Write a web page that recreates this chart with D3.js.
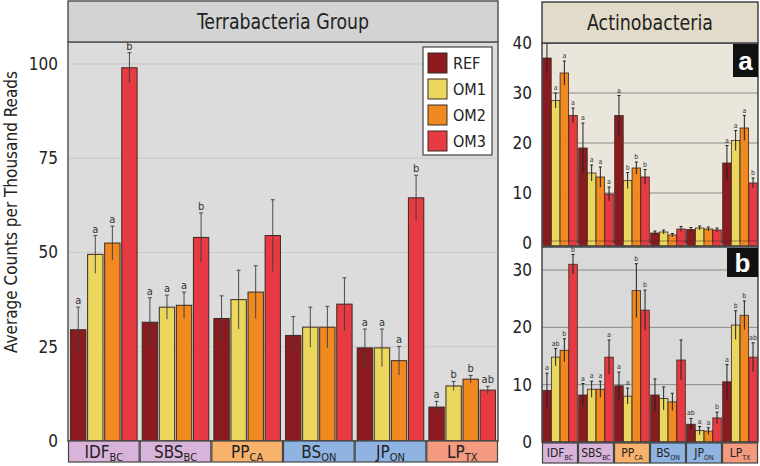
<!DOCTYPE html>
<html>
<head>
<meta charset="utf-8">
<script src="https://cdn.jsdelivr.net/npm/d3@7"></script>
<style>
  body{margin:0;background:#fff}
  svg{display:block;font-family:"Liberation Sans Narrow","DejaVu Sans Condensed",sans-serif}
</style>
</head>
<body>
<script>
// data
const categories = ["IDF","SBS","PP","BS","JP","LP"]
const subs = ["BC","BC","CA","ON","ON","TX"]
const stripColors = ["#d9b4da","#d9b4da","#f7b26c","#8fb4e1","#8fb4e1","#f39a80"]
const series = ["REF","OM1","OM2","OM3"]
const seriesColors = ["#8c1b20","#ecd75e","#f08a20","#e83a42"]

const terraMean = [[29.5,49.5,52.5,99],[31.5,35.5,36,54],[32.5,37.5,39.5,54.5],[28,30.2,30.2,36.3],[24.7,24.7,21.3,64.5],[9,14.6,16.4,13.5]]
const terraErr = [[6,5,4.5,4],[6.5,3.2,3.5,6.5],[6,7.8,7,9.5],[5,5.3,5.5,7],[5,5,3.8,6],[1.5,1.2,1,1]]
const terraLetters = [["a","a","a","b"],["a","a","a","b"],["","","",""],["","","",""],["a","a","a","b"],["a","b","b","ab"]]

const actAMean = [[37,28.5,34,25.5],[19,14,13.2,9.8],[25.5,12.5,15,13.2],[2,2.2,1.6,2.8],[2.7,3,2.8,2.6],[16,20.5,23,12]]
const actAErr = [[3,1.5,2.4,1.5],[5,1.6,2,1.4],[4,1.6,1.2,1.5],[0.4,0.4,0.3,0.5],[0.4,0.4,0.4,0.4],[3.5,2,2.5,1]]
const actALetters = [["a","a","a","a"],["a","a","a","a"],["a","b","b","b"],["","","",""],["","","",""],["a","a","a","b"]]

const actBMean = [[9,14.8,16,31],[8.2,9.2,9.2,14.8],[9.8,8,26.4,23],[8.2,7.6,7,14.3],[3.1,2,1.9,4.2],[10.5,20.4,22.1,14.8]]
const actBErr = [[3,1.5,2,1.7],[2,1.4,1.4,3],[2.4,1.4,4.7,3.5],[2.8,2,1.5,3.5],[1,0.7,0.6,1],[3,2.5,2.5,2.5]]
const actBLetters = [["a","ab","b","b"],["a","a","a","a"],["a","a","b","b"],["","","",""],["ab","a","a","b"],["a","b","b","ab"]]

const terraTicks = [0,25,50,75,100]
const actATicks = [0,10,20,30,40]
const actBTicks = [0,10,20,30]

const svg = d3.select("body").append("svg").attr("width",760).attr("height",466)

function toRows(means,errs,letters){
  let rows=[]
  categories.forEach((c,i)=>{
    series.forEach((s,j)=>{
      rows.push({cat:c,ser:s,value:means[i][j],err:errs[i][j],letter:letters[i][j]})
    })
  })
  return rows
}

function drawBars(g,rows,x0,x1,y,opt){
  let color = d3.scaleOrdinal().domain(series).range(seriesColors)
  g.append("g").selectAll("rect").data(rows).join("rect")
    .attr("x",d=>x0(d.cat)+x1(d.ser))
    .attr("y",d=>y(d.value))
    .attr("width",x1.bandwidth())
    .attr("height",d=>y(0)-y(d.value))
    .attr("fill",d=>color(d.ser))
    .attr("stroke","#3a2a22")
    .attr("stroke-width",opt.sw)
  let eb = g.append("g").attr("stroke",opt.errColor).attr("stroke-width",opt.ew)
  let cx = d=>x0(d.cat)+x1(d.ser)+x1.bandwidth()/2
  eb.selectAll("line.v").data(rows).join("line").attr("class","v")
    .attr("x1",cx).attr("x2",cx)
    .attr("y1",d=>y(d.value-d.err)).attr("y2",d=>y(d.value+d.err))
  eb.selectAll("line.c").data(rows).join("line").attr("class","c")
    .attr("x1",d=>cx(d)-opt.cap).attr("x2",d=>cx(d)+opt.cap)
    .attr("y1",d=>y(d.value+d.err)).attr("y2",d=>y(d.value+d.err))
  g.append("g").selectAll("text").data(rows.filter(d=>d.letter)).join("text")
    .attr("x",cx)
    .attr("y",d=>y(d.value+d.err)-3)
    .attr("text-anchor","middle")
    .attr("font-size",opt.lf)
    .attr("fill","#333")
    .text(d=>d.letter)
}

function drawStrip(g,x0,top,h,fs,sfs){
  let s = g.append("g")
  s.selectAll("rect").data(categories).join("rect")
    .attr("x",d=>x0(d)+0.5).attr("y",top)
    .attr("width",x0.bandwidth()-1).attr("height",h)
    .attr("fill",(d,i)=>stripColors[i])
    .attr("stroke","#444").attr("stroke-width",1.2)
  let t = s.selectAll("text").data(categories).join("text")
    .attr("x",d=>x0(d)+x0.bandwidth()/2)
    .attr("y",top+h/2+fs*0.36)
    .attr("text-anchor","middle")
    .attr("font-size",fs).attr("fill","#222")
  t.append("tspan").text(d=>d)
  t.append("tspan").attr("font-size",sfs).attr("dy",fs*0.22).text((d,i)=>subs[i])
}

function yAxis(g,y,ticks,x){
  g.append("g").attr("transform",`translate(${x},0)`)
    .call(d3.axisLeft(y).tickValues(ticks).tickSize(0).tickPadding(10))
    .call(a=>a.select(".domain").remove())
    .call(a=>a.selectAll("text").attr("font-size",17).attr("fill","#222")
      .attr("font-family","'Liberation Sans Narrow','DejaVu Sans Condensed',sans-serif"))
}

// ---- left panel: Terrabacteria Group
let L = {x0:68,x1:498,top:42,bottom:441}
let xL = d3.scaleBand().domain(categories).range([L.x0,L.x1])
let xLi = d3.scaleBand().domain(series).range([0,xL.bandwidth()]).paddingInner(0.1).paddingOuter(0.15)
let yL = d3.scaleLinear().domain([0,100]).range([L.bottom,64])
let gl = svg.append("g")
gl.append("rect").attr("x",L.x0).attr("y",L.top).attr("width",L.x1-L.x0).attr("height",L.bottom-L.top).attr("fill","#dcdcdc")
gl.append("g").selectAll("line").data(terraTicks.slice(1)).join("line")
  .attr("x1",L.x0).attr("x2",L.x1).attr("y1",d=>yL(d)).attr("y2",d=>yL(d))
  .attr("stroke","#c8c8c8").attr("stroke-width",1.2)
drawBars(gl,toRows(terraMean,terraErr,terraLetters),xL,xLi,yL,{sw:1,errColor:"#3a3a3a",ew:0.9,cap:2,lf:11})
gl.append("rect").attr("x",L.x0).attr("y",L.top).attr("width",L.x1-L.x0).attr("height",L.bottom-L.top)
  .attr("fill","none").attr("stroke","#555").attr("stroke-width",1.5)
gl.append("rect").attr("x",L.x0).attr("y",1).attr("width",L.x1-L.x0).attr("height",L.top-1)
  .attr("fill","#d3d3d3").attr("stroke","#555").attr("stroke-width",1.5)
gl.append("text").attr("x",(L.x0+L.x1)/2).attr("y",29).attr("text-anchor","middle")
  .attr("font-size",22).attr("textLength",172).attr("lengthAdjust","spacingAndGlyphs")
  .attr("fill","#222").text("Terrabacteria Group")
drawStrip(gl,xL,L.bottom,21,17,11)
yAxis(gl,yL,terraTicks,L.x0)
gl.append("text").attr("transform","translate(17,212) rotate(-90)")
  .attr("text-anchor","middle").attr("font-size",17).attr("fill","#222")
  .text("Average Counts per Thousand Reads")

// legend
let leg = gl.append("g").attr("transform","translate(423,47)")
leg.append("rect").attr("width",69).attr("height",108).attr("fill","#fff").attr("stroke","#444").attr("stroke-width",1.2)
leg.selectAll("rect.sw").data(series).join("rect").attr("class","sw")
  .attr("x",5).attr("y",(d,i)=>6+i*26).attr("width",19).attr("height",20)
  .attr("fill",(d,i)=>seriesColors[i]).attr("stroke","#3a2a22")
leg.selectAll("text").data(series).join("text")
  .attr("x",30).attr("y",(d,i)=>22+i*26).attr("font-size",16).attr("fill","#222").text(d=>d)

// ---- right panel: Actinobacteria
let R = {x0:542,x1:758}
let xR = d3.scaleBand().domain(categories).range([R.x0,R.x1])
let xRi = d3.scaleBand().domain(series).range([0,xR.bandwidth()]).paddingInner(0.02).paddingOuter(0.08)
let yA = d3.scaleLinear().domain([0,40]).range([243,43])
let yB = d3.scaleLinear().domain([0,30]).range([442,270])
let gr = svg.append("g")

// panel a
gr.append("rect").attr("x",R.x0).attr("y",43).attr("width",R.x1-R.x0).attr("height",200).attr("fill","#ebe6db")
gr.append("g").selectAll("line").data(actATicks.slice(1,4)).join("line")
  .attr("x1",R.x0).attr("x2",R.x1).attr("y1",d=>yA(d)).attr("y2",d=>yA(d))
  .attr("stroke","#8a8a8a").attr("stroke-width",1)
drawBars(gr,toRows(actAMean,actAErr,actALetters),xR,xRi,yA,{sw:0.8,errColor:"#222",ew:1,cap:1.5,lf:7})
// thin colour strip under panel a
let rowsA = toRows(actAMean,actAErr,actALetters)
gr.append("g").selectAll("rect").data(rowsA).join("rect")
  .attr("x",d=>xR(d.cat)+xRi(d.ser)).attr("y",241)
  .attr("width",xRi.bandwidth()).attr("height",5)
  .attr("fill",(d,i)=>seriesColors[i%4]).attr("stroke","#3a2a22").attr("stroke-width",0.5)
gr.append("rect").attr("x",R.x0).attr("y",43).attr("width",R.x1-R.x0).attr("height",203)
  .attr("fill","none").attr("stroke","#444").attr("stroke-width",1.5)

// panel b
gr.append("rect").attr("x",R.x0).attr("y",247).attr("width",R.x1-R.x0).attr("height",195).attr("fill","#d9d9d9")
gr.append("g").selectAll("line").data(actBTicks.slice(1)).join("line")
  .attr("x1",R.x0).attr("x2",R.x1).attr("y1",d=>yB(d)).attr("y2",d=>yB(d))
  .attr("stroke","#8a8a8a").attr("stroke-width",1)
drawBars(gr,toRows(actBMean,actBErr,actBLetters),xR,xRi,yB,{sw:0.8,errColor:"#222",ew:1,cap:1.5,lf:7})
gr.append("rect").attr("x",R.x0).attr("y",247).attr("width",R.x1-R.x0).attr("height",195)
  .attr("fill","none").attr("stroke","#444").attr("stroke-width",1.5)
drawStrip(gr,xR,443,20,12,7)

// header
gr.append("rect").attr("x",R.x0).attr("y",2).attr("width",R.x1-R.x0).attr("height",41)
  .attr("fill","#e2dbc9").attr("stroke","#444").attr("stroke-width",1.5)
gr.append("text").attr("x",(R.x0+R.x1)/2).attr("y",30).attr("text-anchor","middle")
  .attr("font-size",22).attr("textLength",126).attr("lengthAdjust","spacingAndGlyphs")
  .attr("fill","#222").text("Actinobacteria")

// panel tags
let tags=[{t:"a",x:733,y:44,w:25,h:33},{t:"b",x:727,y:248,w:31,h:29}]
tags.forEach(d=>{
  gr.append("rect").attr("x",d.x).attr("y",d.y).attr("width",d.w).attr("height",d.h).attr("fill","#111")
  gr.append("text").attr("x",d.x+d.w/2).attr("y",d.y+d.h/2+9).attr("text-anchor","middle")
    .attr("font-size",26).attr("font-weight","bold").attr("fill","#fff")
    .attr("font-family","'Liberation Sans','DejaVu Sans',sans-serif").text(d.t)
})

yAxis(gr,yA,actATicks,R.x0)
yAxis(gr,yB,actBTicks,R.x0)
</script>
</body>
</html>
